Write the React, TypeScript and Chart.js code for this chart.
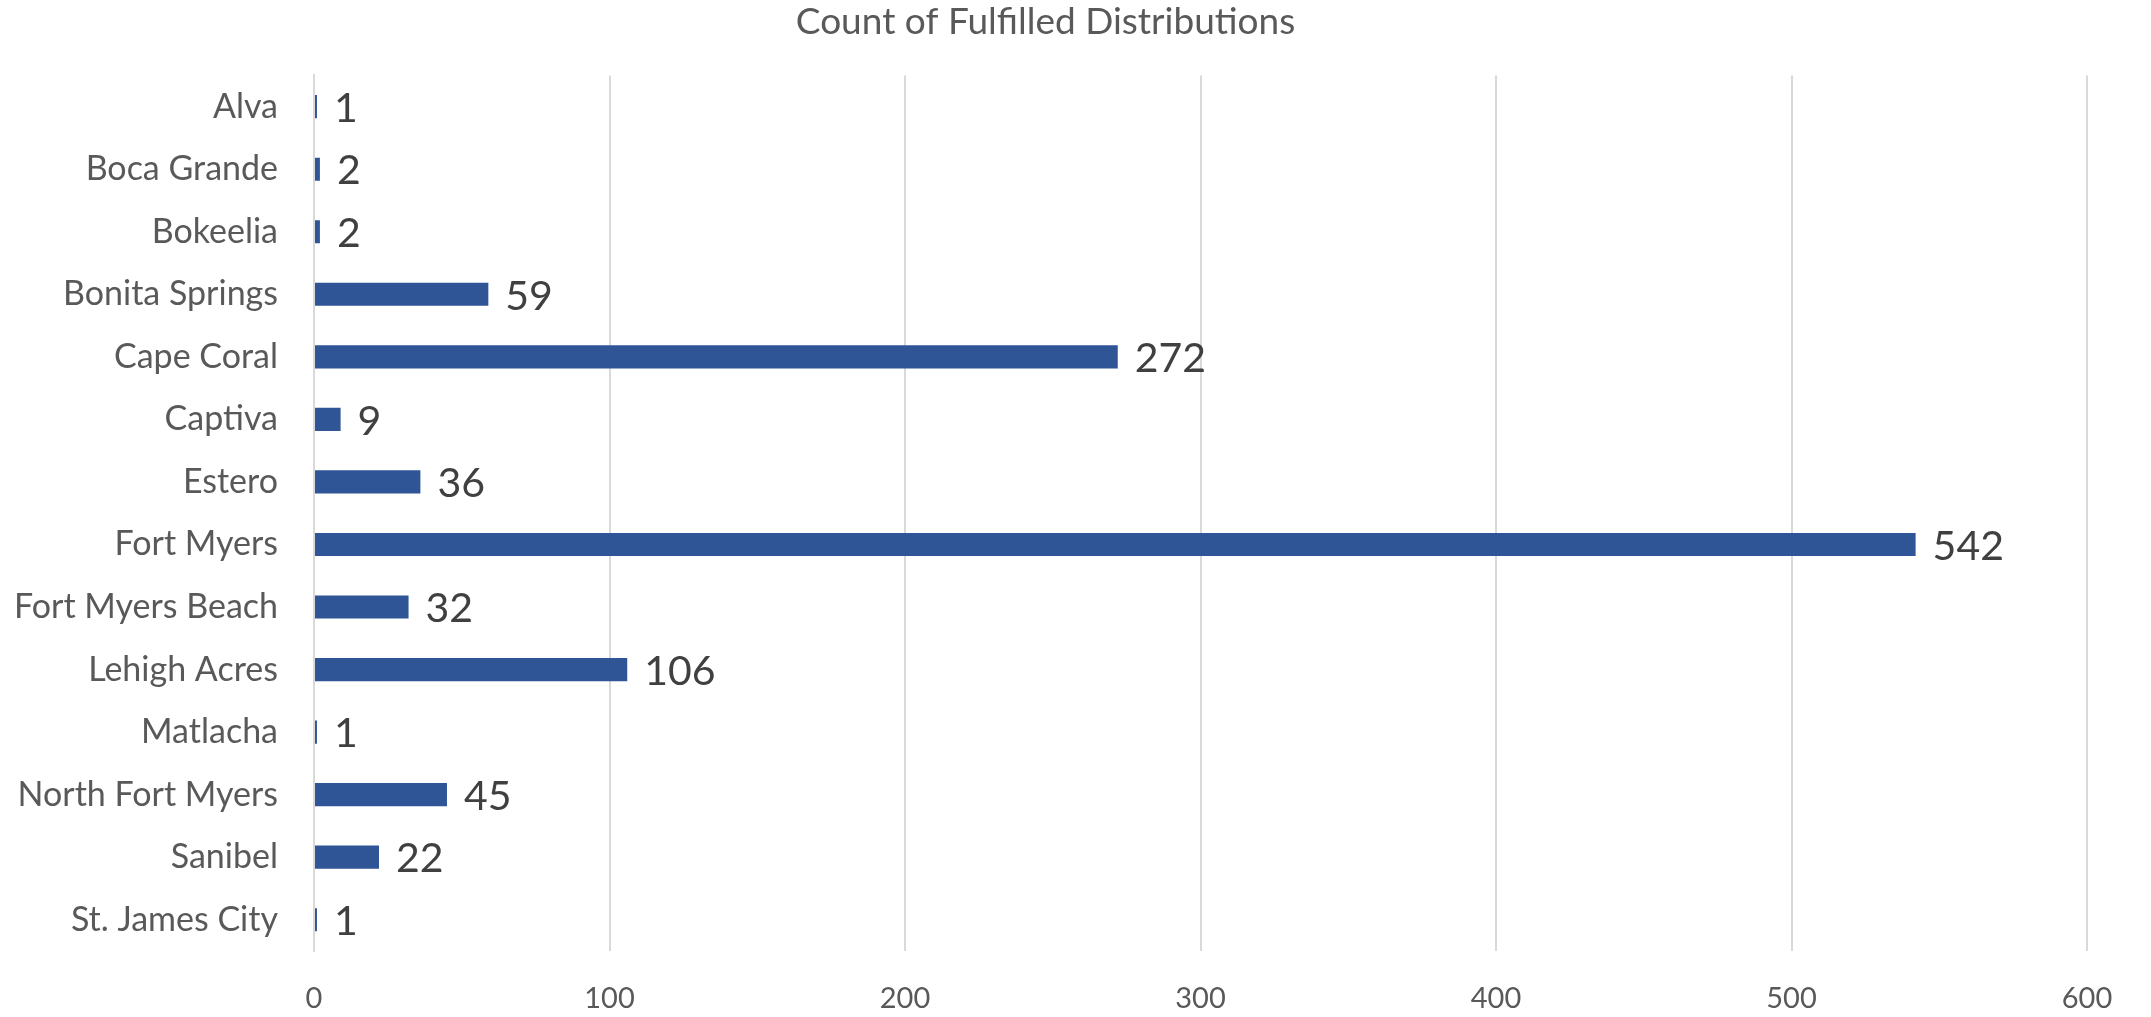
import React, { useEffect, useRef } from "react";
import { Chart, registerables } from "chart.js";

Chart.register(...registerables);

const categories = [
  "Alva",
  "Boca Grande",
  "Bokeelia",
  "Bonita Springs",
  "Cape Coral",
  "Captiva",
  "Estero",
  "Fort Myers",
  "Fort Myers Beach",
  "Lehigh Acres",
  "Matlacha",
  "North Fort Myers",
  "Sanibel",
  "St. James City",
];
const counts = [1, 2, 2, 59, 272, 9, 36, 542, 32, 106, 1, 45, 22, 1];
const xTicks = [0, 100, 200, 300, 400, 500, 600];
const chartTitle = "Count of Fulfilled Distributions";

const FONT = "Lato, 'Open Sans', sans-serif";

const dataLabelPlugin = {
  id: "dataLabels",
  afterDatasetsDraw(chart: any) {
    const ctx = chart.ctx;
    const meta = chart.getDatasetMeta(0);
    const ds = chart.data.datasets[0];
    ctx.save();
    ctx.font = `41px ${FONT}`;
    ctx.fillStyle = "#404040";
    ctx.textAlign = "left";
    ctx.textBaseline = "middle";
    meta.data.forEach((bar: any, i: number) => {
      ctx.fillText(String(ds.data[i]), bar.x + 17, bar.y + 2);
    });
    ctx.restore();
  },
};

export default function App() {
  const ref = useRef<HTMLCanvasElement | null>(null);
  useEffect(() => {
    document.body.style.margin = "0";
    const canvas = ref.current!;
    const chart = new Chart(canvas, {
      type: "bar",
      data: {
        labels: categories,
        datasets: [
          {
            data: counts,
            backgroundColor: "#2F5597",
            borderWidth: 0,
            barPercentage: 0.37,
            categoryPercentage: 1,
          },
        ],
      },
      options: {
        indexAxis: "y",
        responsive: false,
        animation: false,
        layout: { padding: { left: 4, right: 64, top: 0, bottom: 0 } },
        plugins: {
          legend: { display: false },
          tooltip: { enabled: false },
          title: {
            display: true,
            text: chartTitle,
            color: "#595959",
            font: { family: FONT, size: 37, weight: "normal" },
            padding: { top: 0, bottom: 31 },
          },
        },
        scales: {
          x: {
            type: "linear",
            min: xTicks[0],
            max: xTicks[xTicks.length - 1],
            afterBuildTicks(scale: any) {
              scale.ticks = xTicks.map((v) => ({ value: v }));
            },
            afterFit(scale: any) {
              scale.height = 66;
            },
            grid: { color: "#d9d9d9", lineWidth: 2, drawTicks: false },
            border: { display: false },
            ticks: {
              color: "#595959",
              font: { family: FONT, size: 29 },
              padding: 30,
            },
          },
          y: {
            afterFit(scale: any) {
              scale.width = 310;
            },
            grid: { display: false, drawTicks: false },
            border: { display: true, color: "#d9d9d9", width: 2 },
            ticks: {
              color: "#595959",
              font: { family: FONT, size: 34 },
              padding: 36,
              autoSkip: false,
            },
          },
        },
      },
      plugins: [dataLabelPlugin],
    });
    return () => chart.destroy();
  }, []);
  return (
    <div style={{ position: "absolute", left: 0, top: 0, width: 2151, height: 1017, background: "#fff" }}>
      <canvas ref={ref} width={2151} height={1017} style={{ display: "block" }} />
    </div>
  );
}
